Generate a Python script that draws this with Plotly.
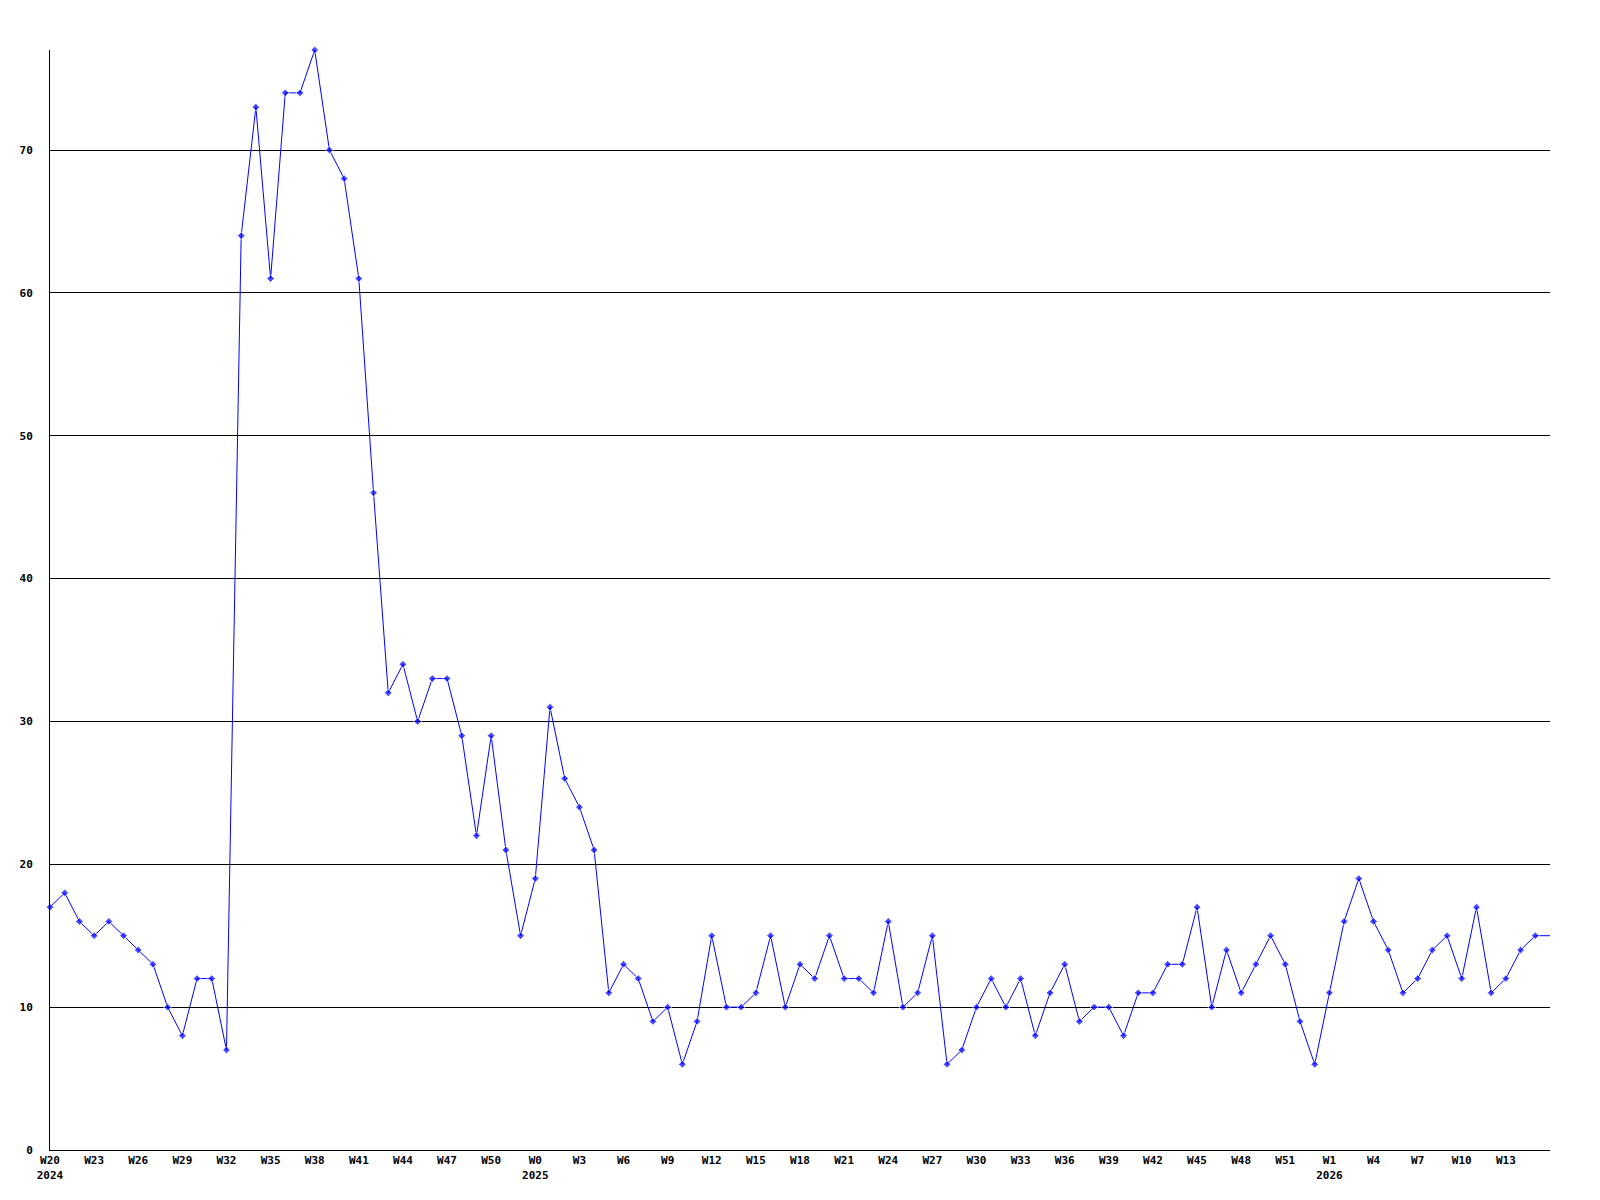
import plotly.graph_objects as go

values = [17, 18, 16, 15, 16, 15, 14, 13, 10, 8, 12, 12, 7, 64, 73, 61, 74, 74, 77, 70,
          68, 61, 46, 32, 34, 30, 33, 33, 29, 22, 29, 21, 15, 19, 31, 26, 24, 21, 11, 13,
          12, 9, 10, 6, 9, 15, 10, 10, 11, 15, 10, 13, 12, 15, 12, 12, 11, 16, 10, 11,
          15, 6, 7, 10, 12, 10, 12, 8, 11, 13, 9, 10, 10, 8, 11, 11, 13, 13, 17, 10,
          14, 11, 13, 15, 13, 9, 6, 11, 16, 19, 16, 14, 11, 12, 14, 15, 12, 17, 11, 12,
          14, 15, 15]

tick_labels = ["W20<br>2024", "W23", "W26", "W29", "W32", "W35", "W38", "W41", "W44",
               "W47", "W50", "W0<br>2025", "W3", "W6", "W9", "W12", "W15", "W18", "W21",
               "W24", "W27", "W30", "W33", "W36", "W39", "W42", "W45", "W48", "W51",
               "W1<br>2026", "W4", "W7", "W10", "W13"]

x = list(range(len(values)))
tick_step = 3
tickvals = [i * tick_step for i in range(len(tick_labels))]

marker_sizes = [6] * (len(values) - 1) + [0]

tfont = dict(family="DejaVu Sans Mono", size=11, color="black", weight="bold")

fig = go.Figure()
fig.add_trace(go.Scatter(
    x=x, y=values, mode="lines+markers",
    line=dict(color="#0000ff", width=1),
    marker=dict(symbol="diamond", size=marker_sizes, color="#0000ff"),
    cliponaxis=False,
    hoverinfo="skip", showlegend=False,
))

fig.update_layout(
    width=1600, height=1200,
    margin=dict(l=50, r=50, t=50, b=50, pad=0),
    paper_bgcolor="white", plot_bgcolor="white",
    font=dict(family="DejaVu Sans Mono", size=11, color="black"),
)
fig.update_xaxes(
    range=[0, len(values) - 1], tickvals=tickvals, ticktext=tick_labels,
    showgrid=False, zeroline=False, showline=True, linecolor="black", linewidth=1,
    ticks="", tickfont=tfont,
)
fig.update_yaxes(
    range=[0, 77], dtick=10, tick0=0,
    showgrid=True, gridcolor="black", gridwidth=1,
    zeroline=False, showline=True, linecolor="black", linewidth=1,
    ticks="", ticklabelstandoff=14, tickfont=tfont,
)

fig.write_html("out.html", config={"displayModeBar": False},
               post_script="document.body.style.margin='0';")
